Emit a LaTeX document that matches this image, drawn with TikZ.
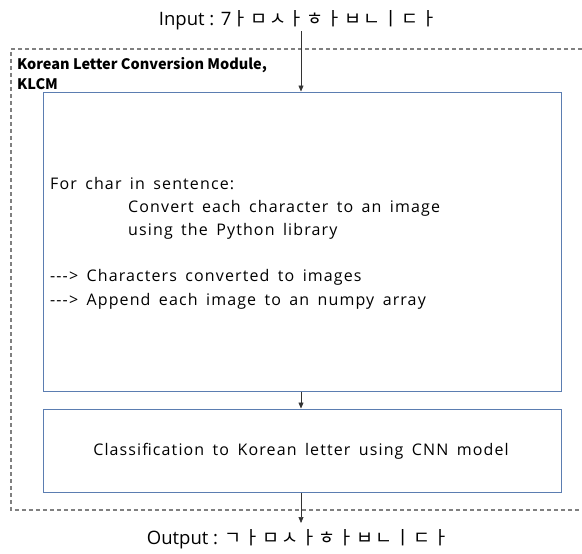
\documentclass[tikz,border=0pt]{standalone}
\usepackage{fontspec}
\setmainfont{Open Sans}[WordSpace=1.6,LetterSpace=7]
\newfontfamily\iofont{Open Sans}
\newfontfamily\kr{Noto Sans CJK KR}
\newfontfamily\krwide{Noto Sans CJK KR}[LetterSpace=10]
\usetikzlibrary{arrows.meta}
\definecolor{boxblue}{HTML}{5B7DB1}
\definecolor{dashgray}{HTML}{808080}
\begin{document}
\begin{tikzpicture}[x=1pt,y=-1pt,
  stagebox/.style={draw=boxblue, line width=1pt, fill=white, inner sep=0pt},
  modulebox/.style={draw=dashgray, line width=1.2pt, dash pattern=on 4pt off 3pt},
  arr/.style={draw=black!80, line width=0.7pt, -{Triangle[length=6pt,width=5pt]}},
  io/.style={font=\iofont\fontsize{18.5}{22}\selectfont, inner sep=0pt},
  body/.style={font=\fontsize{16}{20}\selectfont, anchor=west, inner sep=0pt, text height=12pt, text depth=4pt},
  title/.style={font=\kr\bfseries\fontsize{14.5}{18}\selectfont, anchor=west, inner sep=0pt, text height=11pt, text depth=3pt}]
\useasboundingbox (0,0) rectangle (582,554);
\draw[modulebox] (582,49) -- (11,49) -- (11,510) -- (582,510);
\node[title] (t1) at (17,65) {Korean Letter Conversion Module,};
\node[title] (t2) at (17,85) {KLCM};
\node[stagebox, minimum width=518pt, minimum height=299pt] (bigbox) at (302,241.5) {};
\node[stagebox, minimum width=518pt, minimum height=83pt] (smallbox) at (302,450.5) {};
\node[io] (input) at (298,20) {Input : 7{\krwide ㅏㅁㅅㅏㅎㅏㅂㄴㅣㄷㅏ}};
\node[io] (output) at (298,539) {Output : {\krwide ㄱㅏㅁㅅㅏㅎㅏㅂㄴㅣㄷㅏ}};
\node[body] (l1) at (50,185) {For char in sentence:};
\node[body] (l2) at (128,208) {Convert each character to an image};
\node[body] (l3) at (128,231) {using the Python library};
\node[body] (l4) at (50,277) {-{}-{}-> Characters converted to images};
\node[body] (l5) at (50,301) {-{}-{}-> Append each image to an numpy array};
\node[body, anchor=center] (cls) at (301,451) {Classification to Korean letter using CNN model};
\coordinate (inend) at (301,31);
\draw[arr] (inend) -- (inend |- bigbox.north);
\draw[arr] (bigbox.south -| inend) -- (smallbox.north -| inend);
\coordinate (outend) at (301,523);
\draw[arr] (smallbox.south -| inend) -- (outend);
\end{tikzpicture}
\end{document}
